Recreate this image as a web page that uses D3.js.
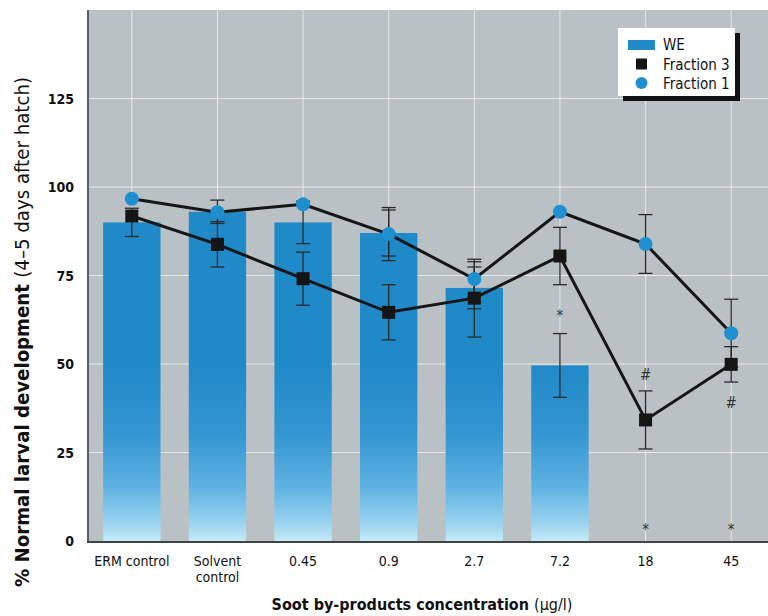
<!DOCTYPE html>
<html><head><meta charset="utf-8">
<script src="https://cdn.jsdelivr.net/npm/d3@7"></script>
<style>
body{margin:0;background:#fff;}
svg{display:block;}
text{font-family:"Liberation Sans Narrow","DejaVu Sans Condensed","Liberation Sans",sans-serif;}
</style></head>
<body><svg id="c" width="768" height="616"></svg>
<script>
const categories = ["ERM control","Solvent control","0.45","0.9","2.7","7.2","18","45"];
const categoryLines = [["ERM control"],["Solvent","control"],["0.45"],["0.9"],["2.7"],["7.2"],["18"],["45"]];
const weValues = [90, 93, 90, 87, 71.5, 49.6, 0, 0];
const weErr    = [4, 3.3, 6, 6.5, 5.9, 9, null, null];
const f3Values = [91.8, 83.8, 74.1, 64.6, 68.6, 80.5, 34.2, 49.9];
const f3Err    = [null, 6.4, 7.5, 7.8, 11, 8.1, 8.2, 5];
const f1Values = [96.7, 92.9, 95.1, 86.7, 74.0, 93.0, 83.9, 58.7];
const f1Err    = [null, null, null, 7.5, 4.9, null, 8.3, 9.6];
const yTicks = [0, 25, 50, 75, 100, 125];
const marks = [
  {cat:"7.2", value:63.8, sym:"*"},
  {cat:"18", value:46.9, sym:"#"},
  {cat:"45", value:39.1, sym:"#"},
  {cat:"18", value:3.5, sym:"*"},
  {cat:"45", value:3.5, sym:"*"}
];
const legendItems = ["WE","Fraction 3","Fraction 1"];

const svg = d3.select("#c");
const pL = 88, pR = 774, pT = 10, pB = 541;
const x = d3.scaleBand().domain(categories).range([pL+1, pR]).paddingInner(0.33).paddingOuter(0.165);
const y = d3.scaleLinear().domain([0,150]).range([pB, pT]);
const cx = c => x(c) + x.bandwidth()/2;

const defs = svg.append("defs");
const g = defs.append("linearGradient").attr("id","barGrad")
  .attr("gradientUnits","userSpaceOnUse").attr("x1",0).attr("x2",0)
  .attr("y1",y(0)).attr("y2",y(50));
[[0,"#c6eaf7"],[0.1,"#9ad3ef"],[0.3,"#5fb3e3"],[0.6,"#3496d2"],[1,"#2089c8"]]
  .forEach(([o,c])=>g.append("stop").attr("offset",o).attr("stop-color",c));

// plot background
svg.append("rect").attr("x",pL).attr("y",pT).attr("width",768-pL).attr("height",pB-pT).attr("fill","#bac1c4");

// grid
svg.append("g").selectAll("line").data(yTicks.filter(d=>d>0)).join("line")
  .attr("x1",pL).attr("x2",768).attr("y1",d=>y(d)).attr("y2",d=>y(d))
  .attr("stroke","#f2f4f5").attr("stroke-width",1).attr("opacity",0.8);
svg.append("g").selectAll("line").data(categories).join("line")
  .attr("x1",d=>cx(d)).attr("x2",d=>cx(d)).attr("y1",pT).attr("y2",pB)
  .attr("stroke","#f2f4f5").attr("stroke-width",1).attr("opacity",0.8);

// bars
svg.append("g").selectAll("rect").data(categories).join("rect")
  .attr("x",d=>x(d)).attr("width",x.bandwidth())
  .attr("y",(d,i)=>y(weValues[i])).attr("height",(d,i)=>y(0)-y(weValues[i]))
  .attr("fill","url(#barGrad)");

function errBars(vals, errs){
  const gg = svg.append("g").attr("stroke","#2b2b2b").attr("stroke-width",1.3).attr("fill","none");
  categories.forEach((c,i)=>{
    if(errs[i]==null) return;
    const xc = cx(c), hi = y(vals[i]+errs[i]), lo = y(vals[i]-errs[i]);
    gg.append("line").attr("x1",xc).attr("x2",xc).attr("y1",hi).attr("y2",lo);
    gg.append("line").attr("x1",xc-7).attr("x2",xc+7).attr("y1",hi).attr("y2",hi);
    gg.append("line").attr("x1",xc-7).attr("x2",xc+7).attr("y1",lo).attr("y2",lo);
  });
}
errBars(weValues, weErr);
errBars(f3Values, f3Err);
errBars(f1Values, f1Err);

const line = d3.line().x((d,i)=>cx(categories[i])).y(d=>y(d));
svg.append("path").datum(f1Values).attr("d",line).attr("fill","none").attr("stroke","#161616").attr("stroke-width",3);
svg.append("path").datum(f3Values).attr("d",line).attr("fill","none").attr("stroke","#161616").attr("stroke-width",3);

svg.append("g").selectAll("rect").data(f3Values).join("rect")
  .attr("x",(d,i)=>cx(categories[i])-6.5).attr("y",d=>y(d)-6.5)
  .attr("width",13).attr("height",13).attr("fill","#151515");
svg.append("g").selectAll("circle").data(f1Values).join("circle")
  .attr("cx",(d,i)=>cx(categories[i])).attr("cy",d=>y(d)).attr("r",7)
  .attr("fill","#1f8fd0");

// significance marks
svg.append("g").selectAll("text").data(marks).join("text")
  .attr("x",d=>cx(d.cat)).attr("y",d=>y(d.value)+ (d.sym==="*"?6:5))
  .attr("text-anchor","middle").attr("font-size",15)
  .attr("fill","#333").text(d=>d.sym);

// axes lines
svg.append("line").attr("x1",pL).attr("x2",pL).attr("y1",pT).attr("y2",pB+1)
  .attr("stroke","#5a5f62").attr("stroke-width",2);
svg.append("line").attr("x1",pL-1).attr("x2",768).attr("y1",pB+1).attr("y2",pB+1)
  .attr("stroke","#3f4447").attr("stroke-width",2);

// y tick labels
svg.append("g").selectAll("text").data(yTicks).join("text")
  .attr("x",74).attr("y",d=>y(d)+5).attr("text-anchor","end")
  .attr("font-size",14).attr("font-weight","bold").attr("fill","#111").text(d=>d);

// x tick labels
const xl = svg.append("g").selectAll("text").data(categories).join("text")
  .attr("x",d=>cx(d)).attr("y",566).attr("text-anchor","middle")
  .attr("font-size",14).attr("fill","#111");
xl.each(function(d,i){
  const t = d3.select(this);
  categoryLines[i].forEach((s,k)=>t.append("tspan").attr("x",cx(d)).attr("dy",k?15.5:0).text(s));
});

// axis titles
const yt = svg.append("text").attr("transform","translate(29,332) rotate(-90)")
  .attr("text-anchor","middle").attr("font-size",19).attr("fill","#111")
  .attr("textLength",510).attr("lengthAdjust","spacingAndGlyphs");
yt.append("tspan").attr("font-weight","bold").text("% Normal larval development ");
yt.append("tspan").text("(4–5 days after hatch)");

const xt = svg.append("text").attr("x",422).attr("y",610).attr("text-anchor","middle")
  .attr("font-size",16).attr("fill","#111");
xt.append("tspan").attr("font-weight","bold").text("Soot by-products concentration ");
xt.append("tspan").text("(μg/l)");

// legend
const lg = svg.append("g");
lg.append("rect").attr("x",623).attr("y",33).attr("width",117).attr("height",68).attr("fill","#111");
lg.append("rect").attr("x",618).attr("y",28).attr("width",117).attr("height",68).attr("fill","#fff");
lg.append("rect").attr("x",628).attr("y",40).attr("width",27).attr("height",10).attr("fill","#2089c8");
lg.append("rect").attr("x",636).attr("y",58.5).attr("width",11).attr("height",11).attr("fill","#151515");
lg.append("circle").attr("cx",641.5).attr("cy",83).attr("r",6).attr("fill","#1f8fd0");
lg.selectAll("text").data(legendItems).join("text")
  .attr("x",663).attr("y",(d,i)=>50+i*19.5).attr("font-size",15).attr("fill","#111").text(d=>d);
</script></body></html>
